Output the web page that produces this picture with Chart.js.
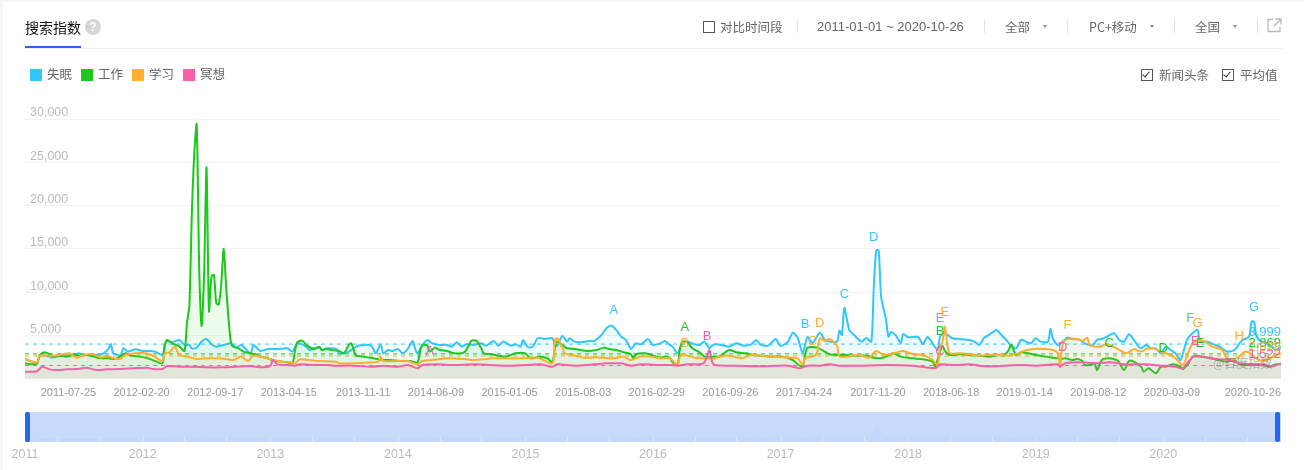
<!DOCTYPE html>
<html>
<head>
<meta charset="utf-8">
<title>搜索指数</title>
<script src="https://cdn.jsdelivr.net/npm/chart.js@4/dist/chart.umd.min.js"></script>
<style>
  html, body { margin: 0; padding: 0; background: #f6f6f6; }
  body { width: 1304px; height: 470px; overflow: hidden; position: relative;
         font-family: "Noto Sans CJK SC", "Liberation Sans", sans-serif; color: #666; }
  #card { position: absolute; left: 3px; top: 2px; width: 1301px; height: 468px; background: #fff; }
  canvas { position: absolute; left: 0; display: block; }
  #mainChart { top: 0; }
  #navChart { top: 400px; }
  .t { position: absolute; font-size: 12.5px; line-height: 16px; white-space: nowrap; }
  .sep { position: absolute; top: 20px; width: 1px; height: 13px; background: #e3e3d8; }
  .box { position: absolute; width: 10px; height: 10px; border: 1px solid #555; }
  .box.on::after { content: ""; position: absolute; left: 2px; top: 0; width: 3px; height: 6px;
                   border: solid #333; border-width: 0 1.5px 1.5px 0; transform: rotate(40deg); }
  .arrow { position: absolute; top: 25px; width: 0; height: 0; border: 2.5px solid transparent;
           border-top: 3px solid #888; }
  .sw { position: absolute; top: 69px; width: 12px; height: 12px; }
  .handle { position: absolute; top: 412px; width: 5px; height: 30px; background: #2468f2; border-radius: 2px; z-index: 3; }
  #mark { position: absolute; left: 1213px; top: 354px; font-size: 12px; line-height: 18px; color: rgba(120,120,120,.55); z-index: 2; }
</style>
</head>
<body>
<div id="card"></div>
<canvas id="mainChart" width="1304" height="400"></canvas>
<canvas id="navChart" width="1304" height="70"></canvas>

<div class="t" style="left:25px;top:18px;font-size:14px;line-height:18px;color:#111">搜索指数</div>
<div style="position:absolute;left:25px;top:46px;width:56px;height:2px;background:#2468f2"></div>
<div style="position:absolute;left:25px;top:48px;width:1258px;height:1px;background:#eee"></div>
<div style="position:absolute;left:85px;top:19px;width:16px;height:16px;border-radius:8px;background:#d6d6d6;color:#fff;font:bold 12px/16px 'Liberation Sans';text-align:center">?</div>

<div class="box" style="left:703px;top:21px"></div>
<div class="t" style="left:720px;top:19px">对比时间段</div>
<div class="sep" style="left:797px"></div>
<div class="t" style="left:817px;top:19px;font-size:13px;font-family:'Liberation Sans'">2011-01-01 ~ 2020-10-26</div>
<div class="sep" style="left:984px"></div>
<div class="t" style="left:1005px;top:19px">全部</div>
<div class="arrow" style="left:1043px"></div>
<div class="sep" style="left:1067px"></div>
<div class="t" style="left:1089px;top:19px">PC+移动</div>
<div class="arrow" style="left:1150px"></div>
<div class="sep" style="left:1174px"></div>
<div class="t" style="left:1195px;top:19px">全国</div>
<div class="arrow" style="left:1233px"></div>
<div class="sep" style="left:1257px"></div>
<svg style="position:absolute;left:1267px;top:18px" width="15" height="15" viewBox="0 0 15 15" fill="none" stroke="#bbb" stroke-width="1.3">
  <path d="M6 1.5H1v12h12V8.5"/><path d="M8.5 1h5.5v5.5M14 1L7 8"/>
</svg>

<div class="sw" style="left:30px;background:#33c6fb"></div><div class="t" style="left:47px;top:66px">失眠</div>
<div class="sw" style="left:81px;background:#1dc71d"></div><div class="t" style="left:98px;top:66px">工作</div>
<div class="sw" style="left:132px;background:#ffae2d"></div><div class="t" style="left:149px;top:66px">学习</div>
<div class="sw" style="left:183px;background:#f75fa8"></div><div class="t" style="left:200px;top:66px">冥想</div>

<div class="box on" style="left:1141px;top:69px"></div><div class="t" style="left:1159px;top:67px">新闻头条</div>
<div class="box on" style="left:1222px;top:69px"></div><div class="t" style="left:1240px;top:67px">平均值</div>

<div id="mark">@百度指数</div>
<div class="handle" style="left:25px"></div>
<div class="handle" style="left:1275px"></div>

<script>
// Weeks are counted from 2011-01-03, the data is weekly
const seriesNames = ['失眠', '工作', '学习', '冥想'];
const seriesColors = ['#33c6fb', '#1dc71d', '#ffae2d', '#f75fa8'];
const lastWeek = 512;

const tickWeeks = [29, 59, 89, 119, 149, 179, 209, 239, 269, 299, 329, 359, 389, 419, 449, 479, 512];
const tickLabels = ['2011-07-25', '2012-02-20', '2012-09-17', '2013-04-15', '2013-11-11', '2014-06-09',
  '2015-01-05', '2015-08-03', '2016-02-29', '2016-09-26', '2017-04-24', '2017-11-20', '2018-06-18',
  '2019-01-14', '2019-08-12', '2020-03-09', '2020-10-26'];

const sleepWeeks = [0, 2, 5, 6, 9, 11, 14, 17, 20, 22, 24, 27, 30, 32, 34, 35, 36, 39, 40, 42, 45, 48, 50, 53, 56, 57, 58, 60, 63, 65, 67, 68, 70, 72, 74, 76, 78, 81, 84, 86, 88, 90, 92, 93, 94, 96, 99, 103, 107, 109, 111, 114, 116, 118, 120, 121, 123, 127,
  128, 130, 132, 135, 138, 141, 142, 143, 145, 146, 148, 150, 152, 154, 156, 158, 159, 160, 162, 164, 166, 169, 172, 174, 176, 178, 180, 183, 186, 188, 191, 193, 195, 198, 200, 202, 203, 205, 207, 209, 212, 215, 216, 217, 219, 221, 222, 224, 227, 230, 232, 235, 237, 239, 241, 243, 245, 247, 249, 251, 254, 256, 259,
  261, 262, 264, 266, 268, 270, 273, 275, 277, 279, 280, 282, 285, 287, 290, 293, 296, 298, 300, 303, 306, 308, 311, 313, 315, 317, 319, 321, 324, 326, 328, 331, 332, 333, 334, 336, 338, 341, 343, 345, 346, 347, 348, 349, 351, 352, 353, 355, 357, 358, 360, 364, 366, 368, 372, 373, 375, 378, 381, 385,
  387, 389, 391, 393, 396, 398, 400, 402, 404, 406, 408, 410, 412, 414, 417, 418, 419, 421, 423, 425, 427, 430, 432, 435, 437, 439, 441, 444, 446, 448, 450, 452, 454, 455, 457, 459, 461, 463, 465, 467, 469, 471, 473, 474, 476, 478, 479, 482, 485, 487, 490, 493, 496, 499, 500, 501, 502, 504, 507, 510, 512];
const sleepValues = [2240, 2050, 1890, 2660, 2625, 2430, 2625, 2665, 2665, 2930, 2740, 2740, 2740, 2930, 3435, 4015, 2930, 2740, 3510, 3130, 3400, 3205, 3205, 3130, 2740, 3900, 4360, 4210, 4480, 3900, 3900, 3510, 3590, 4285, 4590, 3975, 3705, 3900, 4090, 3590, 3900, 3435, 2930, 3900, 3705, 3205, 3435, 3435, 3510, 3130, 4090, 3820, 3320, 3510, 3590, 3320, 3510, 3435,
  2930, 2930, 3130, 3705, 3900, 3820, 3435, 2930, 3975, 2930, 3320, 3205, 3435, 2930, 3435, 4360, 3510, 2930, 3900, 4480, 4090, 3900, 3900, 3705, 4210, 3705, 3975, 3900, 4090, 3820, 4360, 3820, 4285, 3820, 3975, 3705, 4480, 3630, 3705, 4670, 4590, 4670, 3900, 3820, 4940, 4285, 4670, 4285, 4210, 4360, 4360, 5055, 5830, 6140, 5635, 4865, 4480, 3435, 4090, 3975, 4590, 3900, 4090,
  4360, 4090, 3705, 2930, 4090, 4285, 3975, 3900, 4285, 3510, 3820, 3975, 3820, 3705, 4090, 3820, 3975, 4480, 3900, 3820, 4590, 3785, 4280, 5320, 4700, 2970, 4820, 4130, 5320, 4480, 4300, 4280, 5550, 5050, 8180, 5640, 5050, 4280, 4700, 4280, 10650, 14810, 14810, 9490, 6800, 4860, 5400, 5000, 4130, 5170, 4800, 4820, 4020, 4820, 3320, 4865, 5250, 4670, 4590, 4480,
  4285, 3900, 4750, 5055, 5635, 5055, 4480, 3820, 3510, 4480, 4285, 4090, 4670, 4285, 4285, 5750, 4670, 3900, 4285, 4750, 4590, 4480, 4090, 3820, 4480, 4590, 4865, 5250, 4480, 4285, 5135, 4480, 3705, 3510, 3900, 3510, 3510, 2930, 3705, 3320, 2930, 2160, 3900, 4670, 5250, 5640, 4285, 4285, 3900, 3705, 3125, 3320, 4400, 4860, 6600, 6600, 4860, 4300, 4000, 3320, 3700];

const workWeeks = [0, 3, 5, 6, 8, 10, 12, 14, 17, 20, 22, 25, 28, 31, 34, 37, 41, 43, 47, 50, 53, 56, 57, 58, 60, 63, 65, 66, 67, 68, 69, 70, 71, 72, 73, 74, 75, 76, 77, 78, 79, 80, 81, 82, 83, 84, 85, 87, 89, 92, 94, 96, 99, 102, 105, 107, 109, 110, 111, 113, 115, 118, 120, 121, 123, 125, 128,
  130, 132, 133, 134, 135, 138, 142, 146, 149, 153, 157, 160, 161, 162, 164, 165, 167, 169, 172, 175, 179, 181, 182, 184, 186, 187, 190, 193, 196, 200, 204, 206, 210, 213, 215, 216, 217, 219, 221, 224, 229, 233, 236, 238, 241, 244, 247, 248, 249, 253, 256, 259,
  261, 263, 264, 266, 267, 268, 270, 272, 275, 277, 281, 283, 287, 290, 294, 297, 300, 304, 309, 313, 315, 317, 318, 319, 323, 326, 328, 330, 334, 338, 343, 346, 349, 351, 354, 357, 362, 366, 370, 371, 373, 374, 375, 377, 381, 385,
  389, 393, 397, 399, 401, 402, 404, 406, 409, 412, 416, 421, 422, 424, 427, 429, 431, 432, 434, 436, 437, 439, 442, 445, 446, 448, 450, 452, 455, 456, 458, 461, 463, 465, 468, 471, 472, 474, 476, 479, 483, 486, 490, 493, 495, 499, 502, 505, 507, 510, 512];
const workValues = [1775, 1660, 1775, 2740, 3050, 2820, 2550, 2665, 2550, 2820, 2665, 2740, 2550, 2355, 2355, 2280, 2930, 2665, 2550, 2355, 2045, 1775, 3900, 4480, 4090, 3705, 3200, 6400, 8500, 19000, 26000, 29400, 13000, 6100, 12000, 24400, 7800, 11800, 12000, 8700, 8600, 11000, 15000, 10600, 6800, 4080, 3700, 3510, 3130, 2930, 2820, 2550, 2355, 2045, 1970, 1890, 1775, 3130, 4210, 4400, 3820, 3435, 3705, 3320, 3435, 3320, 3200,
  2930, 3900, 4090, 3320, 2660, 2550, 2355, 2160, 2160, 2045, 2045, 1890, 3130, 3900, 3820, 3130, 3590, 3320, 3205, 2930, 3050, 3900, 4400, 4400, 3510, 2930, 2820, 2665, 2550, 2930, 2930, 2355, 2550, 2355, 1890, 3510, 4285, 3900, 3510, 3435, 3205, 3320, 3590, 3435, 3320, 3050, 2820, 2355, 2820, 2930, 2665, 2430,
  2550, 2355, 1890, 1660, 3510, 4285, 4210, 3510, 3050, 2550, 2550, 2550, 3320, 3050, 2930, 2740, 2665, 2550, 2550, 2160, 1660, 1390, 2740, 3590, 3590, 3130, 2820, 2740, 2740, 2665, 2665, 2430, 2355, 2550, 2930, 2550, 2355, 2240, 1970, 1390, 3130, 3820, 3205, 2740, 2820, 2740,
  2665, 2550, 2740, 2665, 3320, 3900, 2740, 3050, 2930, 2740, 2550, 2355, 2280, 2355, 2160, 2280, 2045, 1580, 1580, 1775, 1000, 2160, 2355, 2160, 1890, 1000, 2045, 1970, 1390, 810, 1200, 620, 1390, 1390, 1660, 1390, 1120, 1660, 2550, 2550, 2355, 2160, 1970, 2160, 1660, 1580, 1580, 1580, 1390, 1660, 1660];

const studyWeeks = [0, 2, 5, 6, 10, 14, 18, 21, 24, 28, 31, 33, 37, 39, 41, 45, 49, 52, 56, 57, 59, 61, 63, 66, 70, 74, 78, 82, 85, 88, 91, 93, 97, 101, 105, 108, 110, 112, 116, 120, 127,
  128, 135, 139, 144, 145, 146, 152, 156, 160, 162, 166, 172, 179, 183, 188, 190, 196, 203, 209, 215, 216, 217, 219, 220, 223, 228, 233, 240, 244, 247, 251, 255, 259,
  263, 266, 267, 268, 273, 278, 281, 285, 289, 292, 296, 300, 305, 310, 315, 317, 318, 322, 323, 324, 326, 328, 331, 332, 335, 340, 344, 347, 350, 354, 358, 362, 366, 370, 372, 373, 374, 375, 376, 377, 381, 385,
  389, 393, 397, 401, 405, 407, 411, 416, 419, 421, 422, 423, 425, 429, 431, 433, 434, 438, 441, 445, 449, 452, 455, 457, 460, 463, 467, 469, 472, 474, 476, 479, 482, 484, 488, 490, 494, 497, 499, 503, 506, 510, 512];
const studyValues = [2355, 2050, 1890, 2665, 2665, 2740, 2930, 2430, 2740, 2820, 2430, 2665, 2280, 2355, 2740, 2930, 2930, 2665, 2045, 2930, 3050, 3705, 2740, 2550, 2280, 2355, 2355, 2280, 2160, 2550, 2045, 2665, 2470, 2160, 1970, 1890, 1775, 2240, 2160, 2045, 1970,
  1775, 1775, 1850, 1970, 2550, 2045, 2045, 2045, 1660, 2045, 2160, 2355, 2280, 2160, 2280, 2355, 2355, 2355, 2430, 1775, 4480, 4670, 3705, 2930, 2740, 2430, 2470, 2355, 2550, 2160, 2550, 2550, 2355,
  2355, 1580, 2550, 2820, 2430, 2355, 2355, 2665, 2550, 2355, 2740, 2665, 2550, 2470, 2355, 1580, 2355, 2665, 3130, 4670, 4360, 4590, 3820, 2550, 2550, 2740, 2430, 3200, 2740, 2930, 3200, 2820, 2740, 2160, 1580, 3510, 4285, 6020, 3900, 2930, 2930, 2820,
  2665, 2740, 2740, 2665, 2930, 3205, 3435, 3435, 3320, 2930, 1390, 4090, 4590, 4590, 4360, 4750, 3900, 3705, 3975, 3510, 2930, 3435, 3130, 3435, 3510, 3130, 2740, 2355, 1580, 2930, 4090, 4480, 4090, 3705, 3320, 2355, 2355, 3100, 3000, 2160, 2160, 2740, 2930];

const calmWeeks = [0, 3, 5, 7, 10, 13, 17, 21, 25, 29, 33, 39, 44, 50, 52, 56, 58, 63, 69, 74, 80, 86, 92, 96, 100, 101, 103, 107, 110, 112, 118, 123, 127,
  128, 134, 141, 146, 152, 156, 160, 162, 168, 175, 183, 190, 196, 204, 210, 215, 217, 224, 232, 237, 243, 247, 251, 259,
  263, 266, 270, 275, 277, 279, 280, 281, 289, 300, 311, 316, 319, 324, 328, 332, 340, 351, 362, 371, 373, 379, 385,
  389, 393, 399, 406, 412, 421, 422, 424, 430, 437, 442, 449, 456, 464, 469, 472, 474, 477, 480, 486, 491, 495, 501, 505, 508, 512];
const calmValues = [810, 810, 885, 1390, 1080, 1000, 1080, 1120, 1270, 1000, 1080, 1120, 1200, 1270, 1120, 1120, 1470, 1390, 1390, 1310, 1310, 1390, 1470, 1310, 1470, 2160, 1660, 1580, 1500, 1660, 1580, 1580, 1500,
  1505, 1505, 1390, 1505, 1390, 1580, 1200, 1580, 1660, 1580, 1660, 1580, 1505, 1580, 1660, 1390, 1660, 1505, 1660, 1775, 1775, 1505, 1660, 1580,
  1580, 1505, 1660, 1660, 1890, 3320, 2045, 1580, 1505, 1430, 1505, 1200, 1505, 1505, 1660, 1505, 1505, 1580, 1505, 1200, 1660, 1580, 1660,
  1505, 1430, 1505, 1580, 1505, 1660, 1390, 1775, 1890, 1775, 1890, 1660, 1660, 1505, 1390, 1200, 1890, 2660, 2550, 2280, 2160, 1775, 1660, 1660, 1390, 1775];

const averages = [3999, 2869, 2628, 1522];
const averageLabels = ['3,999', '2,869', '2,628', '1,522'];
const averageLabelLevels = [5290, 4130, 3560, 2860];

// News headline letters, one list per series
const newsLetters = [
  ['A', 'B', 'C', 'D', 'E', 'F', 'G'],
  ['A', 'B', 'C', 'D', 'E'],
  ['A', 'B', 'C', 'D', 'E', 'F', 'G', 'H'],
  ['A', 'B', 'C', 'D', 'E']
];
const newsWeeks = [
  [240, 318, 334, 346, 373, 475, 501],
  [269, 373, 442, 464, 479],
  [217, 269, 321, 324, 375, 425, 478, 495],
  [165, 278, 373, 423, 477]
];
const newsLevels = [
  [7835, 6215, 9690, 16285, 6910, 6910, 8180],
  [5870, 5405, 4130, 3440, 4130],
  [4130, 4130, 4360, 6330, 7600, 6100, 6330, 4940],
  [3205, 4940, 3205, 3670, 4250]
];

// Navigator under the chart
const navYears = ['2011', '2012', '2013', '2014', '2015', '2016', '2017', '2018', '2019', '2020'];
const navYearWeeks = [0, 48, 100, 152, 204, 256, 308, 360, 412, 464];
const navMinorWeeks = [13, 30, 48, 65, 82, 100, 117, 134, 152, 169, 186, 204, 221, 238, 256, 273, 290, 308, 325, 342, 360, 377, 394, 412, 429, 446, 464, 481, 498];

const allWeeks = [sleepWeeks, workWeeks, studyWeeks, calmWeeks];
const allValues = [sleepValues, workValues, studyValues, calmValues];

function toPoints(weeks, values) {
  return weeks.map((w, i) => ({ x: w, y: values[i] }));
}

function hexAlpha(color, alpha) {
  return color + alpha;
}

const lineSets = seriesNames.map((name, i) => ({
  label: name,
  data: toPoints(allWeeks[i], allValues[i]),
  borderColor: seriesColors[i],
  backgroundColor: hexAlpha(seriesColors[i], '14'),
  borderWidth: 2,
  pointRadius: 0,
  tension: 0.25,
  fill: 'origin',
  order: 4 - i
}));

const averageSets = seriesNames.map((name, i) => ({
  label: name + '平均值',
  data: toPoints([0, lastWeek], [averages[i], averages[i]]),
  borderColor: seriesColors[i],
  borderWidth: 1,
  borderDash: [4, 4],
  pointRadius: 0,
  fill: false,
  order: 5
}));

// Letters and the average numbers at the right edge
const newsPlugin = {
  id: 'newsLabels',
  afterDatasetsDraw(chart) {
    const { ctx, scales } = chart;
    ctx.save();
    ctx.textBaseline = 'middle';
    ctx.textAlign = 'center';
    ctx.font = '13px "Liberation Sans"';
    newsLetters.forEach((letters, s) => {
      ctx.fillStyle = seriesColors[s];
      letters.forEach((letter, i) => {
        ctx.fillText(letter, scales.x.getPixelForValue(newsWeeks[s][i]), scales.y.getPixelForValue(newsLevels[s][i]));
      });
    });
    ctx.textAlign = 'right';
    ctx.font = '13px "Liberation Sans"';
    averageLabels.forEach((text, s) => {
      ctx.fillStyle = seriesColors[s];
      ctx.fillText(text, scales.x.getPixelForValue(lastWeek), scales.y.getPixelForValue(averageLabelLevels[s]));
    });
    ctx.restore();
  }
};

new Chart(document.getElementById('mainChart').getContext('2d'), {
  type: 'line',
  data: { datasets: lineSets.concat(averageSets) },
  plugins: [newsPlugin],
  options: {
    responsive: false,
    animation: false,
    layout: { padding: { left: 25, right: 23, top: 119, bottom: 0 } },
    plugins: { legend: { display: false }, tooltip: { enabled: false } },
    scales: {
      x: {
        type: 'linear',
        min: 0,
        max: lastWeek,
        grid: { display: false },
        border: { display: false },
        afterBuildTicks: scale => { scale.ticks = tickWeeks.map(value => ({ value })); },
        afterFit: scale => { scale.height = 21.3; scale.paddingLeft = 0; scale.paddingRight = 0; },
        ticks: {
          align: 'end',
          autoSkip: false,
          maxRotation: 0,
          padding: 0,
          color: '#999',
          font: { family: 'Liberation Sans', size: 11 },
          callback: (value, i) => tickLabels[i]
        }
      },
      y: {
        min: 0,
        max: 30000,
        grid: { color: '#f2f2f2', drawTicks: false },
        border: { display: false },
        afterFit: scale => { scale.width = 0; },
        ticks: {
          stepSize: 5000,
          mirror: true,
          padding: 5,
          labelOffset: -6,
          color: '#bbb',
          font: { family: 'Liberation Sans', size: 12.5 },
          callback: value => value === 0 ? '' : value.toLocaleString('en-US')
        }
      }
    }
  }
});

// Band colour and small ticks of the navigator
const bandPlugin = {
  id: 'navBand',
  beforeDatasetsDraw(chart) {
    const { ctx, chartArea: area } = chart;
    ctx.save();
    ctx.fillStyle = '#c8dbfb';
    ctx.fillRect(area.left, area.top, area.right - area.left, area.bottom - area.top);
    ctx.restore();
  },
  afterDatasetsDraw(chart) {
    const { ctx, chartArea: area, scales } = chart;
    ctx.save();
    ctx.strokeStyle = '#dfe8f7';
    navMinorWeeks.forEach(w => {
      const x = Math.round(scales.x.getPixelForValue(w)) + 0.5;
      ctx.beginPath();
      ctx.moveTo(x, area.bottom - 5);
      ctx.lineTo(x, area.bottom);
      ctx.stroke();
    });
    ctx.restore();
  }
};

new Chart(document.getElementById('navChart').getContext('2d'), {
  type: 'line',
  data: {
    datasets: [{
      label: seriesNames[0],
      data: toPoints(sleepWeeks, sleepValues),
      borderColor: 'rgba(170,195,240,.12)',
      backgroundColor: 'rgba(170,195,240,.12)',
      borderWidth: 1,
      pointRadius: 0,
      fill: 'origin'
    }]
  },
  plugins: [bandPlugin],
  options: {
    responsive: false,
    animation: false,
    layout: { padding: { left: 25, right: 23, top: 12, bottom: 0 } },
    plugins: { legend: { display: false }, tooltip: { enabled: false } },
    scales: {
      x: {
        type: 'linear',
        min: 0,
        max: lastWeek,
        grid: { display: false },
        border: { display: false },
        afterBuildTicks: scale => { scale.ticks = navYearWeeks.map(value => ({ value })); },
        afterFit: scale => { scale.height = 28; scale.paddingLeft = 0; scale.paddingRight = 0; },
        ticks: {
          autoSkip: false,
          maxRotation: 0,
          padding: -3,
          color: '#bbb',
          font: { family: 'Liberation Sans', size: 12.5 },
          callback: (value, i) => navYears[i]
        }
      },
      y: { display: false, min: 0, max: 30000 }
    }
  }
});
</script>
</body>
</html>
